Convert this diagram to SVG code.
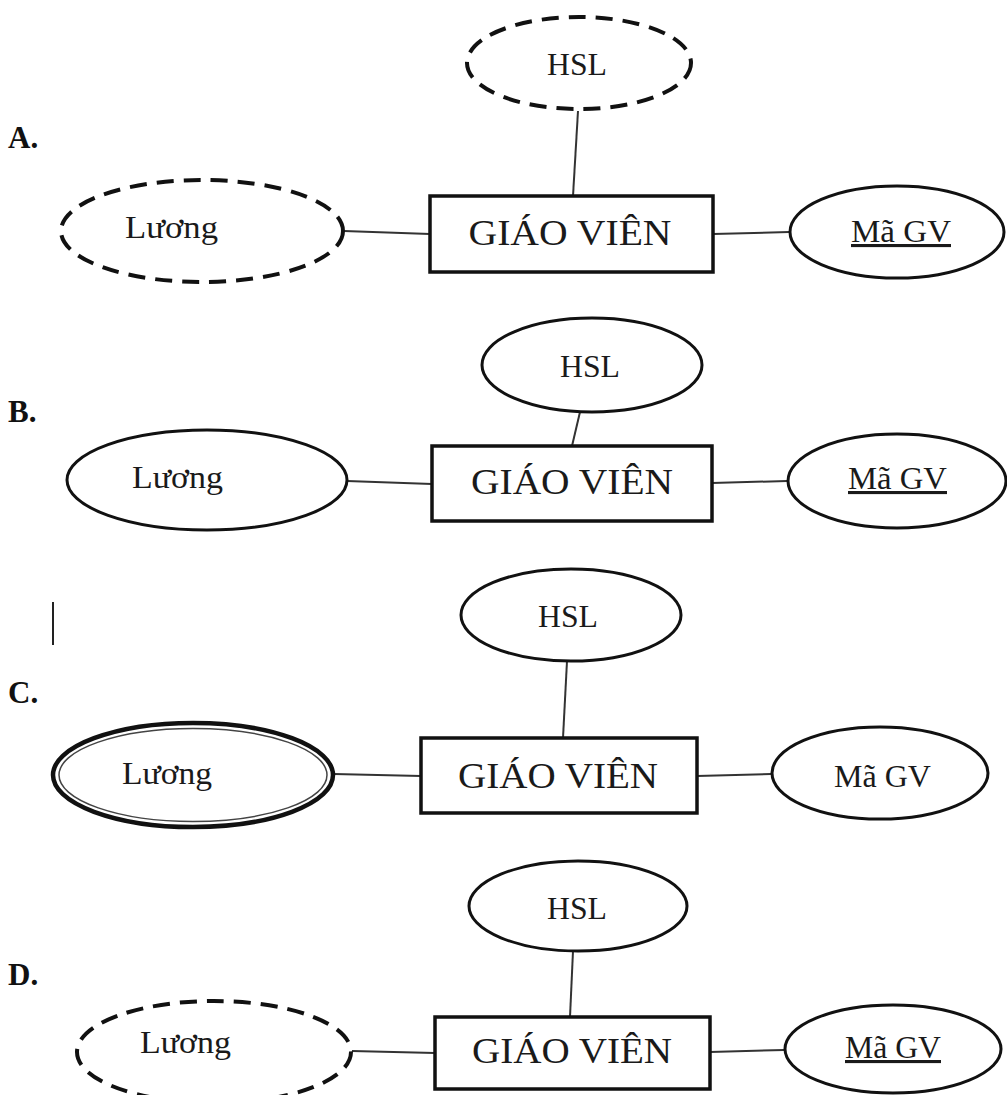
<svg xmlns="http://www.w3.org/2000/svg" width="1007" height="1095" viewBox="0 0 1007 1095">
<style>
.t{font-family:"Liberation Serif","Times New Roman",serif;fill:#1a1a1a;text-anchor:middle}
.lbl{font-family:"Liberation Serif","Times New Roman",serif;font-weight:bold;font-size:31px;fill:#111}
.ent{fill:#fff;stroke:#111;stroke-width:3.5}
.att{fill:#fff;stroke:#111;stroke-width:3}
.dash{fill:#fff;stroke:#111;stroke-width:4;stroke-dasharray:17 10}
.big{font-size:36px}
.sm{font-size:31px}
.con line{stroke:#333;stroke-width:2}
</style>
<rect width="1007" height="1095" fill="#fff"/>
<g class="con">
<line x1="578" y1="111" x2="573" y2="196"/>
<line x1="344" y1="231" x2="430" y2="234"/>
<line x1="713" y1="234" x2="789" y2="232"/>
<line x1="580" y1="412" x2="572" y2="446"/>
<line x1="347" y1="481" x2="432" y2="484"/>
<line x1="712" y1="483" x2="787" y2="481"/>
<line x1="567" y1="661" x2="563" y2="738"/>
<line x1="334" y1="774" x2="421" y2="776"/>
<line x1="697" y1="776" x2="771" y2="774"/>
<line x1="573" y1="951" x2="570" y2="1017"/>
<line x1="352" y1="1051" x2="435" y2="1053"/>
<line x1="710" y1="1052" x2="784" y2="1050"/>
</g>
<line x1="53" y1="602" x2="53" y2="645" stroke="#222" stroke-width="2"/>
<g id="optA">
<text class="lbl" x="8" y="148">A.</text>
<g id="A-hsl"><ellipse class="dash" cx="579" cy="63" rx="112" ry="46"/><text class="t sm" x="577" y="75" textLength="60" lengthAdjust="spacingAndGlyphs">HSL</text></g>
<g id="A-gv"><rect class="ent" x="430" y="196" width="283" height="76"/><text class="t big" x="570" y="245" textLength="203" lengthAdjust="spacingAndGlyphs">GIÁO VIÊN</text></g>
<g id="A-luong"><ellipse class="dash" cx="202" cy="231" rx="141" ry="51"/><text class="t sm" x="171.5" y="238" textLength="93" lengthAdjust="spacingAndGlyphs">Lương</text></g>
<g id="A-ma"><ellipse class="att" cx="897" cy="232" rx="107" ry="46"/><text class="t sm" x="901" y="242" textLength="100" lengthAdjust="spacingAndGlyphs" text-decoration="underline">Mã GV</text></g>
</g>
<g id="optB">
<text class="lbl" x="8" y="422">B.</text>
<g id="B-hsl"><ellipse class="att" cx="592" cy="365" rx="110" ry="47"/><text class="t sm" x="590" y="377" textLength="60" lengthAdjust="spacingAndGlyphs">HSL</text></g>
<g id="B-gv"><rect class="ent" x="432" y="446" width="280" height="75"/><text class="t big" x="572" y="494" textLength="202" lengthAdjust="spacingAndGlyphs">GIÁO VIÊN</text></g>
<g id="B-luong"><ellipse class="att" cx="207" cy="480" rx="140" ry="50"/><text class="t sm" x="177.5" y="488" textLength="91" lengthAdjust="spacingAndGlyphs">Lương</text></g>
<g id="B-ma"><ellipse class="att" cx="897" cy="481" rx="109" ry="47"/><text class="t sm" x="897.5" y="489" textLength="99" lengthAdjust="spacingAndGlyphs" text-decoration="underline">Mã GV</text></g>
</g>
<g id="optC">
<text class="lbl" x="8" y="703">C.</text>
<g id="C-hsl"><ellipse class="att" cx="571" cy="615" rx="110" ry="46"/><text class="t sm" x="568" y="627" textLength="60" lengthAdjust="spacingAndGlyphs">HSL</text></g>
<g id="C-gv"><rect class="ent" x="421" y="738" width="276" height="75"/><text class="t big" x="558" y="788" textLength="200" lengthAdjust="spacingAndGlyphs">GIÁO VIÊN</text></g>
<g id="C-luong"><ellipse cx="193" cy="775" rx="140" ry="52" fill="#fff" stroke="#111" stroke-width="4.5"/><ellipse cx="193" cy="775" rx="134" ry="46.5" fill="none" stroke="#444" stroke-width="1.5"/><text class="t sm" x="167" y="784" textLength="90" lengthAdjust="spacingAndGlyphs">Lương</text></g>
<g id="C-ma"><ellipse class="att" cx="880" cy="773" rx="108" ry="46"/><text class="t sm" x="882.5" y="787" textLength="97" lengthAdjust="spacingAndGlyphs">Mã GV</text></g>
</g>
<g id="optD">
<text class="lbl" x="8" y="985">D.</text>
<g id="D-hsl"><ellipse class="att" cx="578" cy="906" rx="109" ry="45"/><text class="t sm" x="577" y="919" textLength="60" lengthAdjust="spacingAndGlyphs">HSL</text></g>
<g id="D-gv"><rect class="ent" x="435" y="1017" width="275" height="72"/><text class="t big" x="572" y="1063" textLength="200" lengthAdjust="spacingAndGlyphs">GIÁO VIÊN</text></g>
<g id="D-luong"><ellipse class="dash" cx="214" cy="1052" rx="137" ry="51"/><text class="t sm" x="185.5" y="1053" textLength="91" lengthAdjust="spacingAndGlyphs">Lương</text></g>
<g id="D-ma"><ellipse class="att" cx="893" cy="1049" rx="108" ry="44"/><text class="t sm" x="893" y="1058" textLength="96" lengthAdjust="spacingAndGlyphs" text-decoration="underline">Mã GV</text></g>
</g>
</svg>
